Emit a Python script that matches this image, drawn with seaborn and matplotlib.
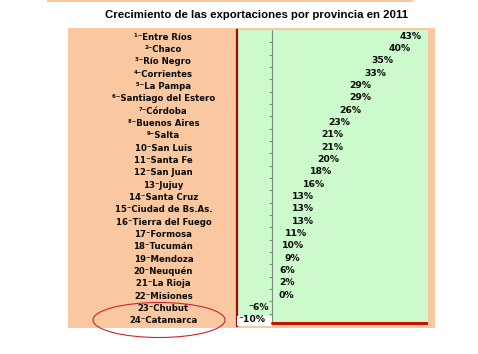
import numpy as np
import pandas as pd
import matplotlib
matplotlib.use("Agg")
import matplotlib.pyplot as plt
import seaborn as sns
from matplotlib.patches import Rectangle, Ellipse

# ---- data ----
title = "Crecimiento de las exportaciones por provincia en 2011"
ranks = [1, 2, 3, 4, 5, 6, 7, 8, 9, 10, 11, 12, 13, 14, 15, 16, 17, 18, 19, 20, 21, 22, 23, 24]
provinces = ["Entre Ríos", "Chaco", "Río Negro", "Corrientes", "La Pampa",
             "Santiago del Estero", "Córdoba", "Buenos Aires", "Salta", "San Luis",
             "Santa Fe", "San Juan", "Jujuy", "Santa Cruz", "Ciudad de Bs.As.",
             "Tierra del Fuego", "Formosa", "Tucumán", "Mendoza", "Neuquén",
             "La Rioja", "Misiones", "Chubut", "Catamarca"]
growth = [43, 40, 35, 33, 29, 29, 26, 23, 21, 21, 20, 18, 16, 13, 13, 13, 11, 10, 9, 6, 2, 0, -6, -10]

# ---- style ----
sns.set_style("white")
plt.rcParams["font.family"] = ["DejaVu Sans"]

PEACH = "#FAC8A0"
GREEN = "#CCFACC"
DARKRED = "#8E1408"
RED = "#CC1100"
GREY = "#7F8F7F"

W, H = 478, 354
def fx(px): return px / W
def fy(py): return 1 - py / H

SUP = dict(zip("0123456789", "⁰¹²³⁴⁵⁶⁷⁸⁹"))
labels = []
for r, p in zip(ranks, provinces):
    num = "".join(SUP[c] for c in str(r)) if r < 10 else str(r)
    labels.append(f"{num}⁻{p}")

fig = plt.figure(figsize=(W / 100, H / 100), dpi=100)
fig.patch.set_facecolor("white")

# background panels
fig.add_artist(Rectangle((fx(68), fy(328)), (435 - 68) / W, 300 / H,
                         transform=fig.transFigure, facecolor=PEACH,
                         edgecolor="none", zorder=0))
fig.add_artist(Rectangle((fx(47), fy(2)), (413 - 47) / W, 2 / H,
                         transform=fig.transFigure, facecolor=PEACH,
                         edgecolor="none", zorder=0))

ax = fig.add_axes([fx(237), fy(326), (428 - 237) / W, (326 - 30) / H])
ax.set_facecolor(GREEN)

df = pd.DataFrame({"Provincia": labels, "Crecimiento": growth})
sns.barplot(data=df, x="Crecimiento", y="Provincia", orient="h", color=GREEN,
            saturation=1, edgecolor="none", width=0.8, ax=ax, zorder=1)

xlo, xhi = -9.8, 43.7
n = len(growth)
ax.set_xlim(xlo, xhi)
ax.set_ylim(n - 0.5, -0.5)
ax.set_xticks([])
ax.set_xlabel("")
ax.set_ylabel("")
ax.tick_params(axis="y", length=0, pad=53)
for t in ax.get_yticklabels():
    t.set_ha("center")
    t.set_fontsize(6.8)
    t.set_fontweight("bold")
    t.set_fontstretch("condensed")
    t.set_color("#0A0A0A")

for s in ["top", "right", "bottom"]:
    ax.spines[s].set_visible(False)
ax.spines["left"].set_color(DARKRED)
ax.spines["left"].set_linewidth(1.6)

# category axis at zero with tick marks
ax.axvline(0, ymin=3 / 296, ymax=1, color=GREY, lw=0.8, zorder=2)
ax.hlines(np.arange(n) + 0.5, -0.85, 0, color=GREY, lw=0.8, zorder=2)
# white patch bottom-left
ax.axvspan(xlo, 0, ymin=0, ymax=10 / 296, facecolor="white", edgecolor="none", zorder=3)
# red bottom line
ax.axhline(n - 0.5 - 0.25, xmin=(0 - xlo) / (xhi - xlo), xmax=0.995,
           color=RED, lw=2.2, zorder=3)

# value labels (inside end)
texts = []
for i, v in enumerate(growth):
    lab = f"{v}%".replace("-", "⁻")
    if v >= 0:
        t = ax.annotate(lab, xy=(v, i), xytext=(-4, 0), textcoords="offset pixels",
                        ha="right", va="center", fontsize=6.7, fontweight="bold",
                        color="#0A0A0A", zorder=5, annotation_clip=False)
    else:
        t = ax.annotate(lab, xy=(v, i), xytext=(-2, 0), textcoords="offset pixels",
                        ha="left", va="center", fontsize=6.7, fontweight="bold",
                        color="#0A0A0A", zorder=5, annotation_clip=False)
    texts.append(t)

fig.canvas.draw()
renderer = fig.canvas.get_renderer()
zero_px = ax.transData.transform((0, 0))[0]
left_px = ax.transAxes.transform((0, 0))[0]
for i, (t, v) in enumerate(zip(texts, growth)):
    bb = t.get_window_extent(renderer)
    if v >= 0 and bb.x0 < zero_px + 7:
        t.xy = (0, i)
        t.set_ha("left")
        t.xyann = (7, 0)
    elif v < 0 and bb.x0 < left_px + 1:
        t.xyann = (t.xyann[0] + (left_px + 1 - bb.x0), 0)

# title
fig.text(fx(257), fy(15), title, ha="center", va="center", fontsize=8.2,
         fontweight="bold", family=["Liberation Sans", "DejaVu Sans"], color="black")

# highlight ellipse
fig.add_artist(Ellipse((fx(159), fy(320)), 132 / W, 35 / H, transform=fig.transFigure,
                       fill=False, edgecolor="#CC2233", lw=0.8, zorder=6))

fig.savefig("out.png", dpi=100)
